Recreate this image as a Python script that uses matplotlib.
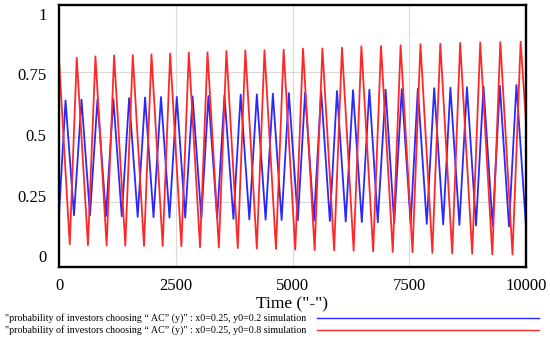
import numpy as np
import matplotlib
matplotlib.use("Agg")
from matplotlib import pyplot as plt

# series: turning points (time, value)
# blue: x0=0.25, y0=0.2
blue_start = (0, 0.20)
blue_end = (10000, 0.155)
blue_peak_t = [140, 482, 824, 1164, 1502, 1843, 2184, 2522, 2861, 3200,
               3543, 3890, 4236, 4580, 4922, 5270, 5614, 5953, 6296, 6646,
               6993, 7340, 7684, 8034, 8381, 8736, 9090, 9440, 9795]
blue_peak_v = [0.641, 0.644, 0.645, 0.646, 0.650, 0.652, 0.654, 0.654, 0.656, 0.658,
               0.660, 0.663, 0.664, 0.667, 0.669, 0.672, 0.675, 0.677, 0.680, 0.682,
               0.682, 0.684, 0.686, 0.688, 0.690, 0.692, 0.695, 0.697, 0.700]
blue_trough_t = [321, 664, 1006, 1344, 1685, 2024, 2366, 2703, 3048, 3387,
                 3735, 4076, 4424, 4767, 5115, 5458, 5800, 6140, 6484, 6826,
                 7178, 7530, 7875, 8227, 8574, 8930, 9285, 9636]
blue_trough_v = [0.199, 0.199, 0.196, 0.195, 0.193, 0.192, 0.190, 0.190, 0.188, 0.186,
                 0.185, 0.183, 0.182, 0.181, 0.180, 0.178, 0.177, 0.175, 0.173, 0.172,
                 0.170, 0.168, 0.166, 0.164, 0.162, 0.160, 0.158, 0.156]

# red: x0=0.25, y0=0.8
red_start = (0, 0.80)
red_end = (10000, 0.56)
red_peak_t = [380, 780, 1180, 1580, 1980, 2380, 2780, 3180, 3585, 3990,
              4400, 4810, 5225, 5640, 6060, 6475, 6895, 7315, 7740, 8165,
              8590, 9020, 9450, 9885]
red_peak_v = [0.805, 0.810, 0.814, 0.815, 0.818, 0.821, 0.825, 0.826, 0.831, 0.833,
              0.834, 0.836, 0.840, 0.841, 0.844, 0.849, 0.850, 0.853, 0.857, 0.859,
              0.862, 0.863, 0.865, 0.867]
red_trough_t = [230, 620, 1020, 1420, 1820, 2220, 2620, 3020, 3423, 3828,
                4236, 4646, 5059, 5474, 5892, 6309, 6727, 7147, 7570, 7995,
                8420, 8848, 9278, 9711]
red_trough_v = [0.087, 0.084, 0.083, 0.082, 0.081, 0.081, 0.080, 0.076, 0.075, 0.073,
                0.071, 0.069, 0.067, 0.065, 0.064, 0.062, 0.060, 0.058, 0.057, 0.054,
                0.052, 0.051, 0.049, 0.048]

x_ticks = [0, 2500, 5000, 7500, 10000]
y_ticks = [0, 0.25, 0.5, 0.75, 1]
y_tick_labels = ["0", "0.25", "0.5", "0.75", "1"]

labels = ['"probability of investors choosing \u201c AC\u201d (y)" : x0=0.25, y0=0.2 simulation',
          '"probability of investors choosing \u201c AC\u201d (y)" : x0=0.25, y0=0.8 simulation']


def series(start, peak_t, peak_v, trough_t, trough_v, end):
    t = np.concatenate([[start[0]], peak_t, trough_t, [end[0]]])
    v = np.concatenate([[start[1]], peak_v, trough_v, [end[1]]])
    order = np.argsort(t)
    return t[order], v[order]


plt.rcParams["font.family"] = ["Liberation Serif", "DejaVu Serif"]

fig = plt.figure(figsize=(5.5, 3.42), dpi=100)
ax = fig.add_axes([59 / 550, 1 - 267 / 342, 467 / 550, 262 / 342])

bt, bv = series(blue_start, blue_peak_t, blue_peak_v, blue_trough_t, blue_trough_v, blue_end)
rt, rv = series(red_start, red_peak_t, red_peak_v, red_trough_t, red_trough_v, red_end)
ax.plot(bt, bv, color="#2828ff", lw=1.3, solid_joinstyle="round")
ax.plot(rt, rv, color="#ff2828", lw=1.3, solid_joinstyle="round")

ax.set_xlim(0, 10000)
ax.set_ylim(0, 1.008)

# grid
for x in x_ticks[1:-1]:
    ax.axvline(x, color="#d9d9d9", lw=0.8, zorder=0)
for y in y_ticks[1:-1]:
    ax.axhline(y, color="#d9d9d9", lw=0.8, zorder=0)

ax.set_xticks(x_ticks)
ax.set_xticklabels([str(v) for v in x_ticks], fontsize=12)
ax.tick_params(axis="x", length=0, pad=8)
ax.set_yticks([])

# vensim spreads the y labels evenly inside the frame
for i, lab in enumerate(y_tick_labels):
    ax.text(-0.027, 0.033 + i * 0.2315, lab, transform=ax.transAxes,
            ha="right", va="center", fontsize=12)

for s in ax.spines.values():
    s.set_linewidth(1.7)
    s.set_color("black")

ax.set_xlabel('Time ("-")', fontsize=12.5, labelpad=2)

# legend rows below the plot
fig.text(5 / 550, 1 - 318 / 342, labels[0], fontsize=7.2, va="center", ha="left")
fig.text(5 / 550, 1 - 330 / 342, labels[1], fontsize=7.2, va="center", ha="left")
fig.add_artist(plt.Line2D([317 / 550, 539 / 550], [1 - 318 / 342] * 2, color="#2828ff", lw=1.0))
fig.add_artist(plt.Line2D([317 / 550, 539 / 550], [1 - 330 / 342] * 2, color="#ff2828", lw=1.0))

plt.savefig("out.png", dpi=100)
